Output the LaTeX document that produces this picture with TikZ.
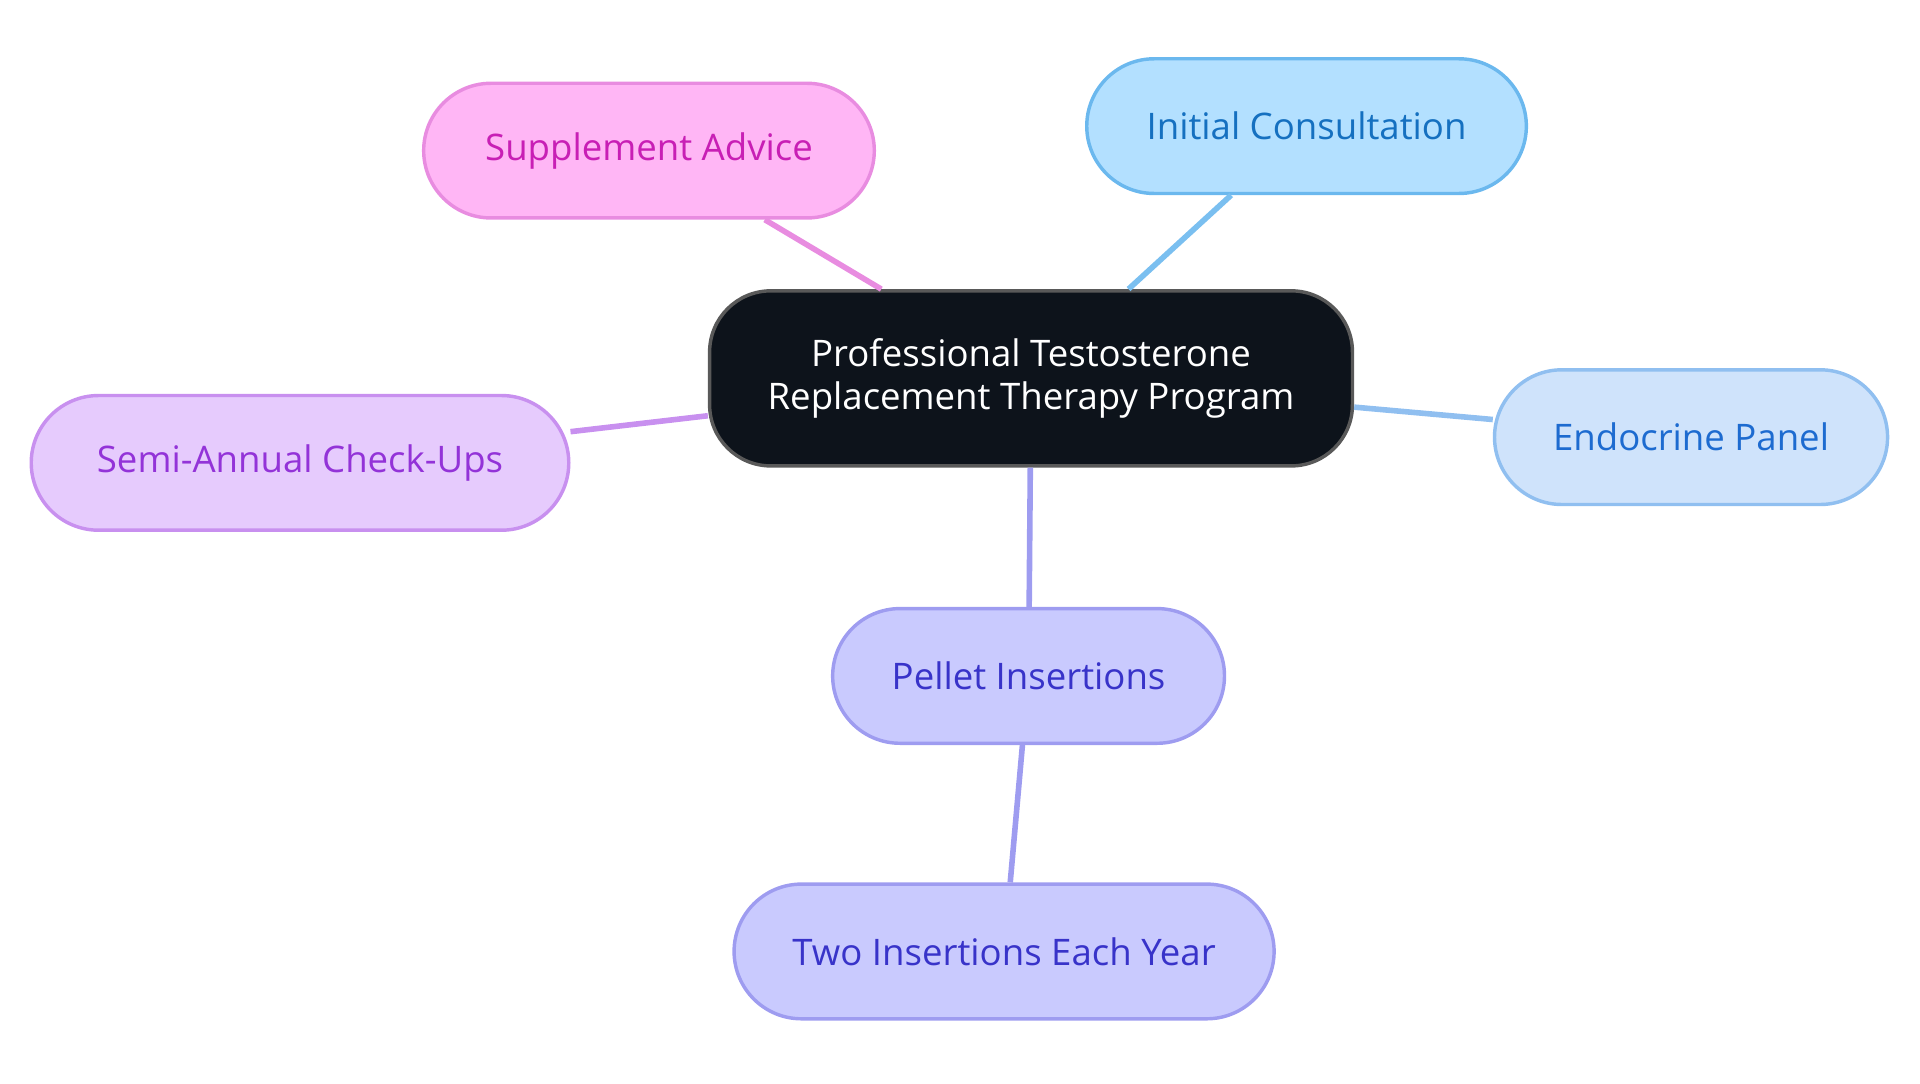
\documentclass[tikz,border=0pt]{standalone}
\usepackage{fontspec}
\setmainfont{Open Sans}
\usepackage{tikz}
\definecolor{rootfill}{HTML}{0D131B}
\definecolor{consfill}{HTML}{B3E0FF}\definecolor{consdraw}{HTML}{6BB8EE}\definecolor{constext}{HTML}{1570C0}
\definecolor{suppfill}{HTML}{FFB6F5}\definecolor{suppdraw}{HTML}{E88CE0}\definecolor{supptext}{HTML}{C81FB5}
\definecolor{endofill}{HTML}{CFE3FB}\definecolor{endodraw}{HTML}{90BFF0}\definecolor{endotext}{HTML}{1D6BD0}
\definecolor{semifill}{HTML}{E6CBFD}\definecolor{semidraw}{HTML}{C890EF}\definecolor{semitext}{HTML}{9333D8}
\definecolor{pellfill}{HTML}{C9CAFE}\definecolor{pelldraw}{HTML}{9E9CF0}\definecolor{pelltext}{HTML}{3833C9}
\tikzstyle{leaf} = [rectangle, rounded corners=0.55cm, minimum height=1.1cm, text centered, line width=0.8pt, font=\fontsize{8.5}{10}\selectfont]
\tikzstyle{root} = [rectangle, rounded corners=0.5cm, minimum width=5.25cm, minimum height=1.43cm, text centered, align=center, draw=gray!70!black, fill=rootfill, text=white, line width=0.8pt, font=\fontsize{8.5}{10}\selectfont]
\tikzstyle{link} = [line width=1.3pt]

\begin{document}
\begin{tikzpicture}
\useasboundingbox (0,0) rectangle (15.68,8.85);
\node (program) [root] at (8.42,5.76) {Professional Testosterone\\Replacement Therapy Program};
\node (consult) [leaf, minimum width=3.59cm, fill=consfill, draw=consdraw, text=constext] at (10.67,7.82) {Initial Consultation};
\node (supplement) [leaf, minimum width=3.68cm, fill=suppfill, draw=suppdraw, text=supptext] at (5.30,7.62) {Supplement Advice};
\node (endocrine) [leaf, minimum width=3.21cm, fill=endofill, draw=endodraw, text=endotext] at (13.81,5.28) {Endocrine Panel};
\node (checkups) [leaf, minimum width=4.39cm, fill=semifill, draw=semidraw, text=semitext] at (2.45,5.07) {Semi-Annual Check-Ups};
\node (pellet) [leaf, minimum width=3.2cm, fill=pellfill, draw=pelldraw, text=pelltext] at (8.40,3.33) {Pellet Insertions};
\node (twice) [leaf, minimum width=4.41cm, fill=pellfill, draw=pelldraw, text=pelltext] at (8.20,1.08) {Two Insertions Each Year};
\draw [link, consdraw!90] (program) -- (consult);
\draw [link, suppdraw] (program) -- (supplement);
\draw [link, endodraw] (program) -- (endocrine);
\draw [link, semidraw] (program) -- (checkups);
\draw [link, pelldraw] (program) -- (pellet);
\draw [link, pelldraw] (pellet) -- (twice);
\end{tikzpicture}
\end{document}
